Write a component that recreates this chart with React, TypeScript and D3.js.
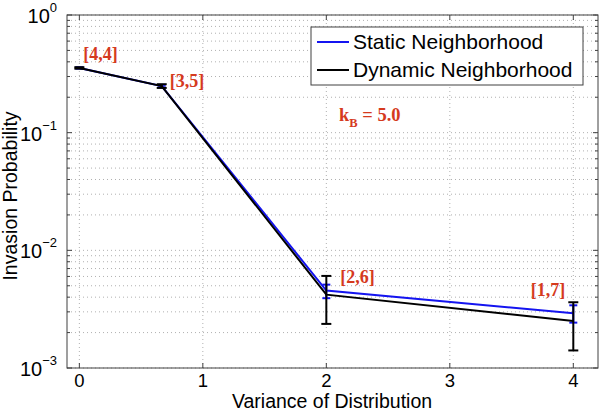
import React from "react";
import * as d3 from "d3";

const xs = [0, 0.667, 2, 4];
const staticY = [0.355, 0.249, 0.00455, 0.00292];
const staticLo = [0.35, 0.243, 0.00392, 0.00243];
const staticHi = [0.36, 0.255, 0.00511, 0.00341];
const dynamicY = [0.355, 0.249, 0.0042, 0.00251];
const dynamicLo = [0.35, 0.24, 0.00237, 0.00141];
const dynamicHi = [0.36, 0.258, 0.00606, 0.00362];
const pointLabels = ["[4,4]", "[3,5]", "[2,6]", "[1,7]"];
const xTicks = [0, 1, 2, 3, 4];
const yDecades = [-3, -2, -1, 0];
const seriesNames = ["Static Neighborhood", "Dynamic Neighborhood"];

const W = 600, H = 412;
const m = { l: 67, r: 2, t: 15, b: 44 };

export default function App() {
  const x = d3.scaleLinear().domain([-0.1, 4.2]).range([m.l, W - m.r]);
  const y = d3.scaleLog().domain([1e-3, 1]).range([H - m.b, m.t]);
  const x0 = m.l, x1 = W - m.r, y0 = H - m.b, y1 = m.t;
  const line = d3.line<number>().x((_, i) => x(xs[i])).y((v) => y(v));
  const minor: number[] = [];
  for (let e = -3; e < 0; e++) for (let k = 2; k <= 9; k++) minor.push(k * Math.pow(10, e));
  const axisColor = "#404040";
  const red = "#d53a1e";
  const blue = "#1414f0";
  const labelPos = [
    { dx: 4, dy: -8, anchor: "start" },
    { dx: 8, dy: 1, anchor: "start" },
    { dx: 14, dy: -8, anchor: "start" },
    { dx: -8, dy: -17, anchor: "end" },
  ];
  const errBars = (lo: number[], hi: number[], color: string, cap: number) =>
    xs.map((xv, i) => (
      <g key={i} stroke={color} strokeWidth={2}>
        <line x1={x(xv)} x2={x(xv)} y1={y(lo[i])} y2={y(hi[i])} />
        <line x1={x(xv) - cap} x2={x(xv) + cap} y1={y(lo[i])} y2={y(lo[i])} />
        <line x1={x(xv) - cap} x2={x(xv) + cap} y1={y(hi[i])} y2={y(hi[i])} />
      </g>
    ));
  return (
    <svg width={W} height={H} style={{ position: "absolute", left: 0, top: 0 }} fontFamily="Liberation Sans, Arial, sans-serif">
      <rect x={0} y={0} width={W} height={H} fill="#fff" />
      {/* grid */}
      <g stroke="#b0b0b0" strokeWidth={1} strokeDasharray="1,3">
        {xTicks.map((t) => (
          <line key={"gx" + t} x1={x(t)} x2={x(t)} y1={y0} y2={y1} />
        ))}
        {minor.map((v) => (
          <line key={"gm" + v} x1={x0} x2={x1} y1={y(v)} y2={y(v)} />
        ))}
        {yDecades.map((e) => (
          <line key={"gy" + e} x1={x0} x2={x1} y1={y(Math.pow(10, e))} y2={y(Math.pow(10, e))} />
        ))}
      </g>
      {/* axes box & ticks */}
      <rect x={x0} y={y1} width={x1 - x0} height={y0 - y1} fill="none" stroke={axisColor} strokeWidth={1} />
      <g stroke={axisColor} strokeWidth={1}>
        {xTicks.map((t) => (
          <g key={"tx" + t}>
            <line x1={x(t)} x2={x(t)} y1={y0} y2={y0 - 5} />
            <line x1={x(t)} x2={x(t)} y1={y1} y2={y1 + 5} />
          </g>
        ))}
        {yDecades.map((e) => (
          <g key={"ty" + e}>
            <line x1={x0} x2={x0 + 5} y1={y(Math.pow(10, e))} y2={y(Math.pow(10, e))} />
            <line x1={x1} x2={x1 - 5} y1={y(Math.pow(10, e))} y2={y(Math.pow(10, e))} />
          </g>
        ))}
        {minor.map((v) => (
          <g key={"tm" + v}>
            <line x1={x0} x2={x0 + 3} y1={y(v)} y2={y(v)} />
            <line x1={x1} x2={x1 - 3} y1={y(v)} y2={y(v)} />
          </g>
        ))}
      </g>
      {/* tick labels */}
      <g fontSize={20} fill="#000">
        {xTicks.map((t) => (
          <text key={"lx" + t} x={x(t)} y={y0 + 18.5} fontSize={18.5} textAnchor="middle">{t}</text>
        ))}
        {yDecades.map((e) => (
          <text key={"ly" + e} x={x0 - 10} y={y(Math.pow(10, e)) + 8} textAnchor="end">
            10<tspan fontSize={13} dy={-11}>{e < 0 ? "\u2212" + -e : e}</tspan>
          </text>
        ))}
      </g>
      <text x={332} y={408} fontSize={19.5} textAnchor="middle">Variance of Distribution</text>
      <text transform={`translate(17, 196) rotate(-90)`} fontSize={19.5} textAnchor="middle">Invasion Probability</text>
      {/* series */}
      {errBars(staticLo, staticHi, blue, 4)}
      <path d={line(staticY) || ""} fill="none" stroke={blue} strokeWidth={2} />
      <path d={line(dynamicY) || ""} fill="none" stroke="#000" strokeWidth={2} />
      {errBars(dynamicLo, dynamicHi, "#000", 5)}
      {/* point labels */}
      <g fill={red} fontFamily="Liberation Serif, Times New Roman, serif" fontWeight="bold" fontSize={18}>
        {xs.map((xv, i) => (
          <text key={"pl" + i} x={x(xv) + labelPos[i].dx} y={y(Math.max(staticY[i], dynamicY[i])) + labelPos[i].dy} textAnchor={labelPos[i].anchor as any}>
            {pointLabels[i]}
          </text>
        ))}
        <text x={339} y={121} fontSize={18.5}>
          k<tspan fontSize={12.5} dy={6}>B</tspan><tspan dy={-6}> = 5.0</tspan>
        </text>
      </g>
      {/* legend */}
      <g>
        <rect x={311} y={27} width={272} height={58} fill="#fff" stroke={axisColor} strokeWidth={1} />
        <line x1={317} x2={349} y1={42} y2={42} stroke={blue} strokeWidth={2} />
        <line x1={317} x2={349} y1={70} y2={70} stroke="#000" strokeWidth={2} />
        <text x={353} y={49} fontSize={21}>{seriesNames[0]}</text>
        <text x={353} y={77} fontSize={21}>{seriesNames[1]}</text>
      </g>
    </svg>
  );
}
